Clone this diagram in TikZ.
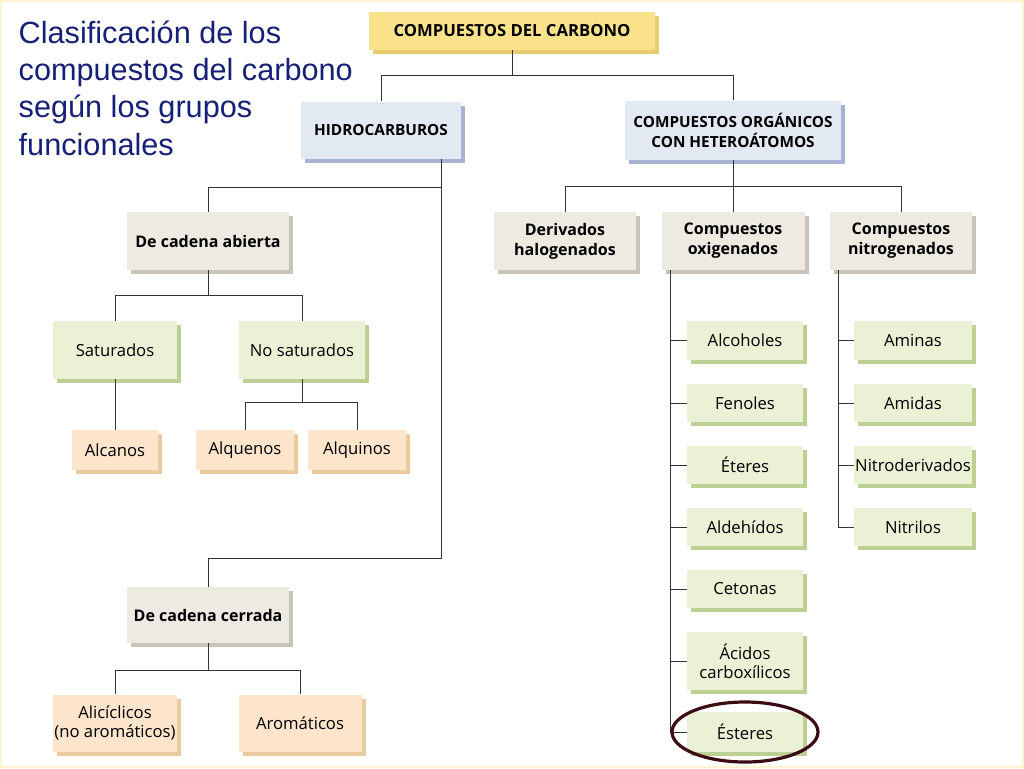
\documentclass[tikz,border=0pt]{standalone}
\usepackage{fontspec}
\setmainfont{Open Sans}
\newfontfamily\titlefont{Liberation Sans}
\usetikzlibrary{shadows,positioning}
\definecolor{titleblue}{RGB}{22,32,120}
\definecolor{yelfill}{RGB}{250,226,138}
\definecolor{yelshad}{RGB}{232,204,112}
\definecolor{bluefill}{RGB}{226,233,243}
\definecolor{blueshad}{RGB}{168,178,212}
\definecolor{beigefill}{RGB}{237,234,225}
\definecolor{beigeshad}{RGB}{200,196,184}
\definecolor{greenfill}{RGB}{234,241,212}
\definecolor{greenshad}{RGB}{188,208,148}
\definecolor{orfill}{RGB}{252,229,202}
\definecolor{orshad}{RGB}{236,202,160}
\definecolor{ringred}{RGB}{60,12,20}

\begin{document}
\begin{tikzpicture}[x=0.75pt, y=-0.75pt, font=\fontsize{12.5}{14.5}\selectfont,
    box/.style 2 args={rectangle, align=center, inner sep=1pt, minimum width=#1*0.75pt, minimum height=#2*0.75pt},
    yellowbox/.style={fill=yelfill, font=\fontsize{12.5}{14.5}\selectfont\bfseries, drop shadow={shadow xshift=3pt, shadow yshift=-3pt, fill=yelshad, opacity=1}},
    bluebox/.style={fill=bluefill, font=\fontsize{11.5}{15}\selectfont\bfseries, drop shadow={shadow xshift=3pt, shadow yshift=-3pt, fill=blueshad, opacity=1}},
    beigebox/.style={fill=beigefill, font=\fontsize{12}{15}\selectfont\bfseries, drop shadow={shadow xshift=3pt, shadow yshift=-3pt, fill=beigeshad, opacity=1}},
    greenbox/.style={fill=greenfill, drop shadow={shadow xshift=3pt, shadow yshift=-3pt, fill=greenshad, opacity=1}},
    orangebox/.style={fill=orfill, drop shadow={shadow xshift=3pt, shadow yshift=-3pt, fill=orshad, opacity=1}},
    link/.style={draw=black!80, line width=0.6pt}]
    \useasboundingbox (0,0) rectangle (1024,768);
    \fill[white] (0,0) rectangle (1024,768);
    \draw[yelfill!40, line width=1.5pt] (1,1) rectangle (1023,767);

    % Title
    \node[anchor=north west, align=left, text=titleblue, font=\titlefont\fontsize{23}{28}\selectfont] (title) at (14,16)
        {Clasificación de los\\compuestos del carbono\\según los grupos\\funcionales};

    % Top levels
    \node[box={286}{38}, yellowbox] (carb) at (512,31) {COMPUESTOS DEL CARBONO};
    \node[box={160}{57}, bluebox] (hidro) at (381,130) {HIDROCARBUROS};
    \node[box={216}{59}, bluebox] (org) at (733,130) {COMPUESTOS ORGÁNICOS\\CON HETEROÁTOMOS};

    % Hydrocarbons
    \node[box={162}{58}, beigebox] (abierta) at (208,241) {De cadena abierta};
    \node[box={162}{56}, beigebox] (cerrada) at (208,615) {De cadena cerrada};
    \node[box={124}{58}, greenbox] (sat) at (115,350) {Saturados};
    \node[box={126}{58}, greenbox] (nosat) at (302,350) {No saturados};
    \node[box={86}{40}, orangebox] (alcanos) at (115,450) {Alcanos};
    \node[box={98}{40}, orangebox] (alquenos) at (245,450) {Alquenos};
    \node[box={98}{40}, orangebox] (alquinos) at (357,450) {Alquinos};
    \node[box={124}{57}, orangebox] (alic) at (115,723) {Alicíclicos\\(no aromáticos)};
    \node[box={123}{57}, orangebox] (arom) at (300,723) {Aromáticos};

    % Heteroatoms
    \node[box={142}{58}, beigebox] (deriv) at (565,241) {Derivados\\halogenados};
    \node[box={143}{58}, beigebox] (oxi) at (733,241) {Compuestos\\oxigenados};
    \node[box={142}{58}, beigebox] (nitro) at (901,241) {Compuestos\\nitrogenados};

    \node[box={116}{39}, greenbox] (alcoholes) at (745,340) {Alcoholes};
    \node[box={116}{38}, greenbox] (fenoles) at (745,403) {Fenoles};
    \node[box={116}{38}, greenbox] (eteres) at (745,465) {Éteres};
    \node[box={116}{38}, greenbox] (aldehidos) at (745,527) {Aldehídos};
    \node[box={116}{38}, greenbox] (cetonas) at (745,589) {Cetonas};
    \node[box={116}{58}, greenbox] (acidos) at (745,661) {Ácidos\\carboxílicos};
    \node[box={116}{40}, greenbox] (esteres) at (745,732) {Ésteres};

    \node[box={118}{39}, greenbox] (aminas) at (913,340) {Aminas};
    \node[box={118}{38}, greenbox] (amidas) at (913,403) {Amidas};
    \node[box={118}{38}, greenbox] (nitroder) at (913,465) {Nitroderivados};
    \node[box={118}{38}, greenbox] (nitrilos) at (913,527) {Nitrilos};

    % Connections
    \draw[link] (carb.south) -- ++(0,25) coordinate (cjoin);
    \draw[link] (hidro.north) |- (cjoin) -| (org.north);

    \coordinate (hjoin) at (441,187);
    \coordinate (hjoin2) at (441,558);
    \draw[link] (hidro.south -| hjoin) -- (hjoin2) -| (cerrada.north);
    \draw[link] (hjoin) -| (abierta.north);

    \draw[link] (abierta.south) -- ++(0,25) coordinate (ajoin);
    \draw[link] (sat.north) |- (ajoin) -| (nosat.north);
    \draw[link] (sat.south) -- (alcanos.north);
    \draw[link] (nosat.south) -- ++(0,23) coordinate (njoin);
    \draw[link] (alquenos.north) |- (njoin) -| (alquinos.north);
    \draw[link] (cerrada.south) -- ++(0,27) coordinate (zjoin);
    \draw[link] (alic.north) |- (zjoin) -| (arom.north);

    \draw[link] (org.south) -- ++(0,27) coordinate (ojoin);
    \draw[link] (deriv.north) |- (ojoin) -| (nitro.north);
    \draw[link] (ojoin) -- (oxi.north);

    \coordinate (oxtrunk) at (670,270);
    \draw[link] (oxi.south -| oxtrunk) |- (esteres.west);
    \foreach \n in {alcoholes,fenoles,eteres,aldehidos,cetonas,acidos}
        \draw[link] (\n.west) -- (\n.west -| oxtrunk);

    \coordinate (ntrunk) at (838,270);
    \draw[link] (nitro.south -| ntrunk) |- (nitrilos.west);
    \foreach \n in {aminas,amidas,nitroder}
        \draw[link] (\n.west) -- (\n.west -| ntrunk);

    % Highlight
    \draw[ringred, line width=2.4pt] (esteres) ellipse [x radius=73, y radius=30];
\end{tikzpicture}
\end{document}
